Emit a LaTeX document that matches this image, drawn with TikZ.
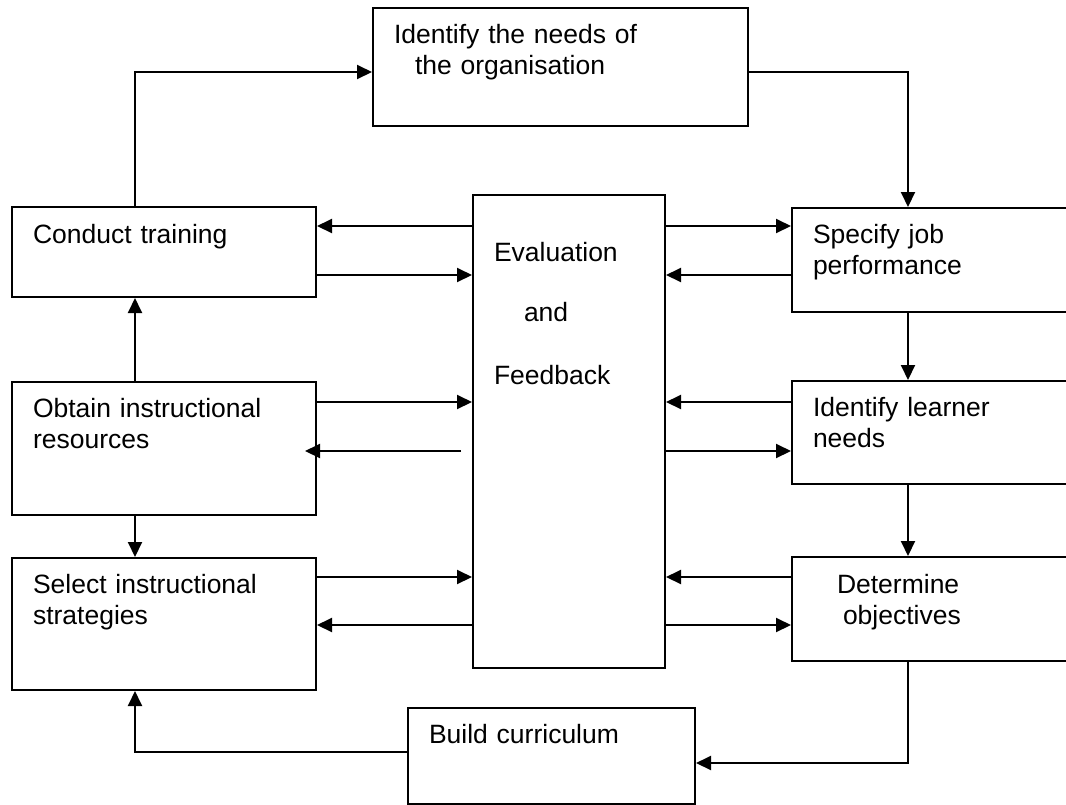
\documentclass[tikz,border=0pt]{standalone}
\usepackage{fontspec}
\setmainfont{Liberation Sans}
\usetikzlibrary{arrows.meta}

\begin{document}
\begin{tikzpicture}[x=1pt,y=-1pt]
  \tikzset{box/.style={draw,line width=2pt,anchor=north west,inner xsep=21pt,inner ysep=0pt,align=left,font=\fontsize{26.5}{31}\selectfont},
           arr/.style={line width=2pt,-{Triangle[length=15pt,width=14pt]}}}

  \clip (0,0) rectangle (1066,804);
  \fill[white] (0,0) rectangle (1066,804);

  \node [box,text width=333pt,text height=35pt,text depth=83pt] (needs) at (372,7) {Identify the needs of\\\hspace*{21pt}the organisation};
  \node [box,text width=262pt,text height=36pt,text depth=54pt] (ct) at (11,206) {Conduct training};
  \node [box,text width=262pt,text height=35pt,text depth=98pt] (ob) at (11,381) {Obtain instructional\\resources};
  \node [box,text width=262pt,text height=35pt,text depth=97pt] (sel) at (11,557) {Select instructional\\strategies};
  \node [box,text width=150pt,text height=66pt,text depth=407pt] (eval) at (472,194) {Evaluation\\[29pt]\hspace*{30pt}and\\[32pt]Feedback};
  \node [box,text width=262pt,text height=35pt,text depth=69pt] (spec) at (791,207) {Specify job\\performance};
  \node [box,text width=262pt,text height=35pt,text depth=68pt] (lrn) at (791,380) {Identify learner\\needs};
  \node [box,text width=262pt,text height=36pt,text depth=68pt] (det) at (791,556) {\hspace*{24pt}Determine\\\hspace*{30pt}objectives};
  \node [box,text width=245pt,text height=35pt,text depth=61pt] (build) at (407,707) {Build curriculum};

  \coordinate (cl) at ([xshift=124pt]ct.north west);
  \coordinate (cr) at ([xshift=117pt]spec.north west);
  \coordinate (l1) at ([yshift=-32pt]eval.north west);
  \coordinate (l2) at ([yshift=-81pt]eval.north west);
  \coordinate (l3) at ([yshift=-208pt]eval.north west);
  \coordinate (l4) at ([yshift=-257pt]eval.north west);
  \coordinate (l5) at ([yshift=-383pt]eval.north west);
  \coordinate (l6) at ([yshift=-431pt]eval.north west);
  \coordinate (r1) at ([yshift=-32pt]eval.north east);
  \coordinate (r2) at ([yshift=-81pt]eval.north east);
  \coordinate (r3) at ([yshift=-208pt]eval.north east);
  \coordinate (r4) at ([yshift=-257pt]eval.north east);
  \coordinate (r5) at ([yshift=-383pt]eval.north east);
  \coordinate (r6) at ([yshift=-431pt]eval.north east);

  \draw [arr] (cl) |- ([yshift=-65pt]needs.north west);
  \draw [arr] ([yshift=-65pt]needs.north east) -| (cr);
  \draw [arr] (cr |- spec.south) -- (cr |- lrn.north);
  \draw [arr] (cr |- lrn.south) -- (cr |- det.north);
  \draw [arr] (cr |- det.south) |- ([yshift=-56pt]build.north east);
  \draw [arr] ([yshift=-45pt]build.north west) -| (cl |- sel.south);
  \draw [arr] (cl |- ob.south) -- (cl |- sel.north);
  \draw [arr] (cl |- ob.north) -- (cl |- ct.south);

  \draw [arr] (l1) -- (l1 -| ct.east);
  \draw [arr] (l2 -| ct.east) -- (l2);
  \draw [arr] (l3 -| ob.east) -- (l3);
  \draw [arr,shorten <=11pt,shorten >=-12pt] (l4) -- (l4 -| ob.east);
  \draw [arr] (l5 -| sel.east) -- (l5);
  \draw [arr] (l6) -- (l6 -| sel.east);
  \draw [arr] (r1) -- (r1 -| spec.west);
  \draw [arr] (r2 -| spec.west) -- (r2);
  \draw [arr] (r3 -| lrn.west) -- (r3);
  \draw [arr] (r4) -- (r4 -| lrn.west);
  \draw [arr] (r5 -| det.west) -- (r5);
  \draw [arr] (r6) -- (r6 -| det.west);
\end{tikzpicture}
\end{document}
